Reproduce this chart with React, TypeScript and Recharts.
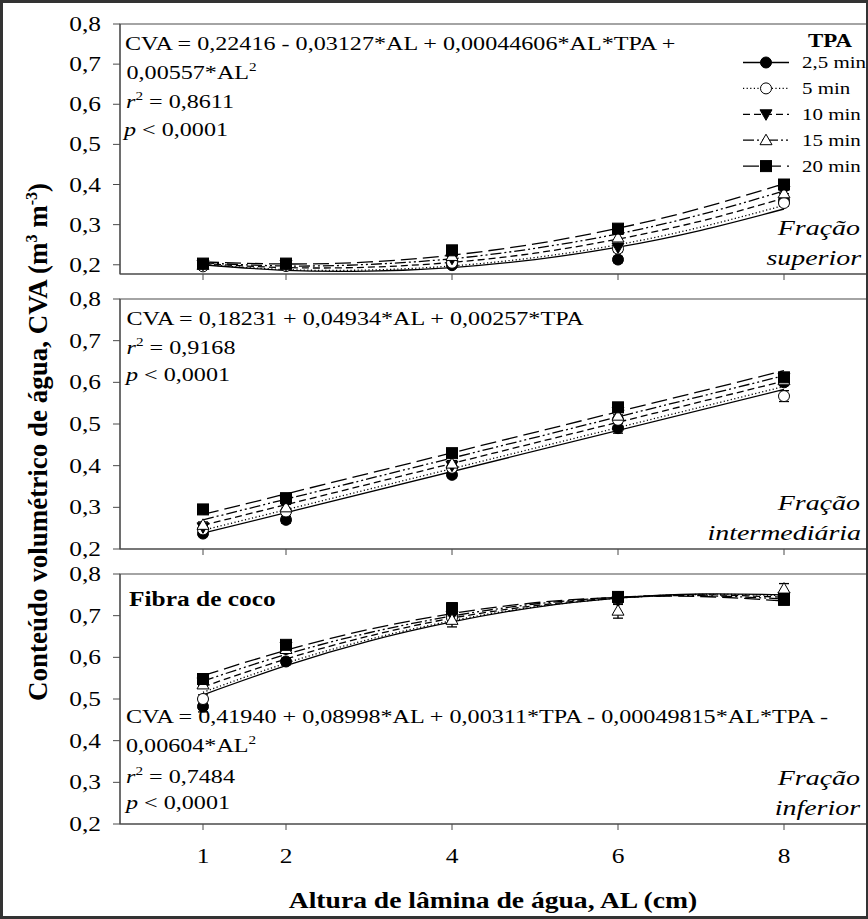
import React from 'react';
import { ComposedChart, Line, Scatter, XAxis, YAxis, ErrorBar, ReferenceArea, Legend } from 'recharts';

// ---------- data ----------
const alLevels = [1, 2, 4, 6, 8];
const fitAL = [1, 2, 3, 4, 5, 6, 7, 8];
const fitALLinear = [1, 8];
const tpaLabels = ['2,5 min', '5 min', '10 min', '15 min', '20 min'];
const xTicks = [1, 2, 4, 6, 8];
const yTicks = [0.2, 0.3, 0.4, 0.5, 0.6, 0.7, 0.8];

// Fração superior (rows = TPA 2,5 / 5 / 10 / 15 / 20 min; cols = AL 1,2,4,6,8)
const supMeans = [
  [0.200, 0.198, 0.199, 0.213, 0.360],
  [0.196, 0.197, 0.205, 0.240, 0.354],
  [0.200, 0.200, 0.215, 0.243, 0.385],
  [0.200, 0.200, 0.222, 0.268, 0.378],
  [0.203, 0.203, 0.236, 0.290, 0.400],
];
const supErr = [
  [0.006, 0.006, 0.006, 0.008, 0.008],
  [0.005, 0.005, 0.006, 0.008, 0.008],
  [0.005, 0.006, 0.007, 0.008, 0.008],
  [0.005, 0.006, 0.007, 0.008, 0.008],
  [0.005, 0.007, 0.010, 0.006, 0.008],
];
const supFit = [
  [0.200, 0.186, 0.184, 0.193, 0.213, 0.244, 0.286, 0.339],
  [0.201, 0.188, 0.187, 0.197, 0.218, 0.250, 0.294, 0.348],
  [0.203, 0.193, 0.194, 0.206, 0.229, 0.264, 0.309, 0.366],
  [0.205, 0.197, 0.201, 0.215, 0.241, 0.277, 0.325, 0.384],
  [0.207, 0.202, 0.207, 0.224, 0.252, 0.291, 0.341, 0.402],
];

// Fração intermediária
const intMeans = [
  [0.237, 0.270, 0.378, 0.490, 0.600],
  [0.247, 0.290, 0.395, 0.510, 0.567],
  [0.252, 0.315, 0.400, 0.530, 0.610],
  [0.258, 0.300, 0.405, 0.520, 0.605],
  [0.295, 0.322, 0.430, 0.540, 0.612],
];
const intErr = [
  [0.007, 0.008, 0.007, 0.012, 0.008],
  [0.007, 0.008, 0.007, 0.008, 0.013],
  [0.007, 0.008, 0.007, 0.008, 0.008],
  [0.007, 0.008, 0.007, 0.008, 0.008],
  [0.006, 0.008, 0.007, 0.008, 0.008],
];
const intFit = [
  [0.238, 0.583],
  [0.245, 0.590],
  [0.257, 0.603],
  [0.270, 0.616],
  [0.283, 0.628],
];

// Fração inferior
const infMeans = [
  [0.482, 0.590, 0.700, 0.745, 0.745],
  [0.500, 0.620, 0.695, 0.740, 0.750],
  [0.540, 0.625, 0.700, 0.735, 0.745],
  [0.535, 0.620, 0.690, 0.712, 0.765],
  [0.548, 0.630, 0.718, 0.745, 0.738],
];
const infErr = [
  [0.013, 0.008, 0.008, 0.008, 0.015],
  [0.010, 0.008, 0.008, 0.008, 0.010],
  [0.008, 0.008, 0.008, 0.008, 0.010],
  [0.008, 0.008, 0.017, 0.018, 0.012],
  [0.008, 0.008, 0.013, 0.008, 0.012],
];
const infFit = [
  [0.510, 0.580, 0.639, 0.685, 0.720, 0.742, 0.752, 0.750],
  [0.516, 0.586, 0.643, 0.688, 0.721, 0.742, 0.751, 0.748],
  [0.529, 0.596, 0.651, 0.694, 0.724, 0.743, 0.750, 0.744],
  [0.543, 0.607, 0.659, 0.699, 0.728, 0.744, 0.748, 0.740],
  [0.556, 0.617, 0.667, 0.705, 0.731, 0.744, 0.746, 0.735],
];

// ---------- styles ----------
const FONT = '"Liberation Serif", "Times New Roman", serif';
const SX = 1.27;
const AXIS = '#4a4a4a';
const dashes = [undefined, '1.2 2.4', '7 4', '11 3 2 3 2 3', '16 6'];

function Marker({ kind, cx, cy }: { kind: number; cx: number; cy: number }) {
  if (cx == null || cy == null) return <g />;
  if (kind === 0) return <circle cx={cx} cy={cy} r={5.5} fill="#000" stroke="#000" />;
  if (kind === 1) return <circle cx={cx} cy={cy} r={5.5} fill="#fff" stroke="#000" strokeWidth={1} />;
  if (kind === 2)
    return <polygon points={`${cx - 6},${cy - 4.5} ${cx + 6},${cy - 4.5} ${cx},${cy + 6}`} fill="#000" stroke="#000" />;
  if (kind === 3)
    return <polygon points={`${cx - 6},${cy + 4.5} ${cx + 6},${cy + 4.5} ${cx},${cy - 6}`} fill="#fff" stroke="#000" strokeWidth={1} />;
  return <rect x={cx - 5.5} y={cy - 5.5} width={11} height={11} fill="#000" stroke="#000" />;
}

function YTick(props: any) {
  const { x, y, payload } = props;
  return (
    <text transform={`translate(${x},${y}) scale(${SX},1)`} textAnchor="end" dy="0.35em" fontSize={20} fontFamily={FONT} fill="#000">
      {Number(payload.value).toFixed(1).replace('.', ',')}
    </text>
  );
}

function XTick(props: any) {
  const { x, y, payload } = props;
  return (
    <text transform={`translate(${x},${y + 31}) scale(${SX},1)`} textAnchor="middle" fontSize={20} fontFamily={FONT} fill="#000">
      {payload.value}
    </text>
  );
}

function LegendBox() {
  const rowY = (i: number) => 42.5 + i * 25.9;
  return (
    <svg width={135} height={165} style={{ overflow: 'visible' }}>
      <text transform={`translate(97,27) scale(${SX},1)`} textAnchor="middle" fontSize={18} fontWeight="bold" fontFamily={FONT}>
        TPA
      </text>
      {tpaLabels.map((lab, i) => (
        <g key={lab}>
          <line x1={10} x2={56} y1={rowY(i)} y2={rowY(i)} stroke="#000" strokeWidth={1.3} strokeDasharray={dashes[i]} />
          <Marker kind={i} cx={33} cy={rowY(i)} />
          <text transform={`translate(69,${rowY(i) + 5.5}) scale(${SX},1)`} fontSize={16.5} fontFamily={FONT}>
            {lab}
          </text>
        </g>
      ))}
    </svg>
  );
}

type PanelProps = {
  top: number;
  height: number;
  xAxisHeight: number;
  yMin: number;
  means: number[][];
  errs: number[][];
  fits: number[][];
  fitX: number[];
  curve: 'natural' | 'linear';
  showXLabels: boolean;
  legend?: boolean;
};

const MTOP = 15;

function Panel(p: PanelProps) {
  return (
    <div style={{ position: 'absolute', left: 0, top: p.top - MTOP }}>
      <ComposedChart width={867} height={p.height} margin={{ top: MTOP, right: 0, bottom: 0, left: 0 }}>
        <XAxis
          type="number"
          dataKey="x"
          domain={[0, 9]}
          ticks={xTicks}
          interval={0}
          allowDataOverflow
          height={p.xAxisHeight}
          tickSize={6}
          tickMargin={2}
          tickLine={{ stroke: AXIS }}
          axisLine={{ stroke: AXIS }}
          tick={p.showXLabels ? (tp: any) => <XTick {...tp} /> : () => <g />}
        />
        <YAxis
          type="number"
          dataKey="y"
          domain={[p.yMin, 0.8]}
          ticks={yTicks}
          interval={0}
          allowDataOverflow
          width={120}
          tickSize={7}
          tickMargin={12}
          tickLine={{ stroke: AXIS }}
          axisLine={{ stroke: AXIS }}
          tick={(tp: any) => <YTick {...tp} />}
        />
        <ReferenceArea x1={0} x2={9} y1={p.yMin} y2={0.8} fill="none" stroke={AXIS} strokeWidth={1.2} ifOverflow="visible" />
        {p.fits.map((row, i) => (
          <Line
            key={`fit-${i}`}
            data={row.map((v, j) => ({ x: p.fitX[j], y: v }))}
            dataKey="y"
            type={p.curve}
            stroke="#000"
            strokeWidth={1.3}
            strokeDasharray={dashes[i]}
            dot={false}
            activeDot={false}
            isAnimationActive={false}
            legendType="none"
          />
        ))}
        {p.means.map((row, i) => (
          <Scatter
            key={`pts-${i}`}
            name={tpaLabels[i]}
            data={row.map((v, j) => ({ x: alLevels[j], y: v, err: p.errs[i][j] }))}
            dataKey="y"
            isAnimationActive={false}
            shape={(sp: any) => <Marker kind={i} cx={sp.cx} cy={sp.cy} />}
          >
            <ErrorBar dataKey="err" direction="y" width={5} stroke="#000" strokeWidth={1.3} />
          </Scatter>
        ))}
        {p.legend && (
          <Legend
            layout="vertical"
            align="center"
            verticalAlign="middle"
            content={() => <LegendBox />}
            wrapperStyle={{ position: 'absolute', left: 733, top: 20 - (p.top - MTOP), width: 135, height: 165 }}
          />
        )}
      </ComposedChart>
    </div>
  );
}

function T({ x, y, size = 19, anchor = 'start', weight = 'normal', italic = false, sx = SX, children }: any) {
  return (
    <text
      transform={`translate(${x},${y}) scale(${sx},1)`}
      textAnchor={anchor}
      fontSize={size}
      fontWeight={weight}
      fontStyle={italic ? 'italic' : 'normal'}
      fontFamily={FONT}
      fill="#000"
    >
      {children}
    </text>
  );
}

const Sup = ({ children }: any) => (
  <tspan dy={-8} fontSize={12}>
    {children}
  </tspan>
);

function RLine({ x, y, value }: { x: number; y: number; value: string }) {
  return (
    <T x={x} y={y}>
      <tspan fontStyle="italic">r</tspan>
      <Sup>2</Sup>
      <tspan dy={8}>{` = ${value}`}</tspan>
    </T>
  );
}

function PLine({ x, y }: { x: number; y: number }) {
  return (
    <T x={x} y={y}>
      <tspan fontStyle="italic">p</tspan>
      <tspan>{' < 0,0001'}</tspan>
    </T>
  );
}

export default function App() {
  return (
    <div style={{ position: 'absolute', left: 0, top: 0, width: 868, height: 919, background: '#fff' }}>
      <Panel top={24} height={275} xAxisHeight={10} yMin={0.177} means={supMeans} errs={supErr} fits={supFit} fitX={fitAL} curve="natural" showXLabels={false} legend />
      <Panel top={299} height={275} xAxisHeight={10} yMin={0.2} means={intMeans} errs={intErr} fits={intFit} fitX={fitALLinear} curve="linear" showXLabels={false} />
      <Panel top={574} height={315} xAxisHeight={50} yMin={0.2} means={infMeans} errs={infErr} fits={infFit} fitX={fitAL} curve="natural" showXLabels />

      <svg width={868} height={919} style={{ position: 'absolute', left: 0, top: 0, pointerEvents: 'none' }}>
        <rect x={1.5} y={1.5} width={866} height={916} fill="none" stroke="#333" strokeWidth={3} />

        {/* top panel */}
        <T x={125} y={50}>CVA = 0,22416 - 0,03127*AL + 0,00044606*AL*TPA +</T>
        <T x={126.5} y={79}>
          <tspan>0,00557*AL</tspan>
          <Sup>2</Sup>
        </T>
        <RLine x={126} y={108} value="0,8611" />
        <PLine x={124} y={136} />
        <T x={860} y={235} size={22} anchor="end" italic>Fração</T>
        <T x={861} y={265} size={22} anchor="end" italic>superior</T>

        {/* middle panel */}
        <T x={126.5} y={325}>CVA = 0,18231 + 0,04934*AL + 0,00257*TPA</T>
        <RLine x={126.5} y={354} value="0,9168" />
        <PLine x={126} y={381} />
        <T x={860} y={510} size={22} anchor="end" italic>Fração</T>
        <T x={861} y={540} size={22} anchor="end" italic>intermediária</T>

        {/* bottom panel */}
        <T x={129} y={606} size={20} weight="bold">Fibra de coco</T>
        <T x={126} y={723}>CVA = 0,41940 + 0,08998*AL + 0,00311*TPA - 0,00049815*AL*TPA -</T>
        <T x={126} y={752}>
          <tspan>0,00604*AL</tspan>
          <Sup>2</Sup>
        </T>
        <RLine x={126} y={783} value="0,7484" />
        <PLine x={126} y={809} />
        <T x={860} y={785} size={22} anchor="end" italic>Fração</T>
        <T x={860} y={815} size={22} anchor="end" italic>inferior</T>

        {/* axis titles */}
        <T x={493} y={908} size={23} weight="bold" anchor="middle" sx={1.2}>
          Altura de lâmina de água, AL (cm)
        </T>
        <text transform="translate(47,442) rotate(-90)" textAnchor="middle" fontSize={27} fontWeight="bold" fontFamily={FONT} fill="#000">
          <tspan>Conteúdo volumétrico de água, CVA (m</tspan>
          <tspan dy={-10} fontSize={16}>3</tspan>
          <tspan dy={10}> m</tspan>
          <tspan dy={-10} fontSize={16}>-3</tspan>
          <tspan dy={10}>)</tspan>
        </text>
      </svg>
    </div>
  );
}
